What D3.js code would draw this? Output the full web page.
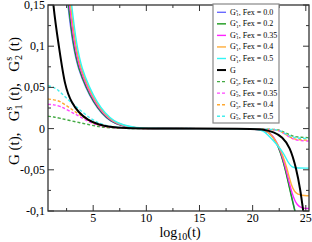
<!DOCTYPE html>
<html>
<head>
<meta charset="utf-8">
<script src="https://cdn.jsdelivr.net/npm/d3@7"></script>
<style>
  body { margin: 0; background: #fff; }
  svg { display: block; }
  text { font-family: "Liberation Serif", "DejaVu Serif", serif; fill: #000; }
</style>
</head>
<body>
<div id="chart"></div>
<script>
// G^s_1 solid curves (x = log10 t, y)
const g1Fex00 = [[0.75, 0.42], [2.0, 0.23], [2.6, 0.15], [3.1, 0.1], [3.6, 0.072], [4.3, 0.05], [5.0, 0.032], [5.8, 0.018], [6.6, 0.009], [7.5, 0.004], [8.7, 0.001], [10, 0], [20, 0], [21.0, -0.001], [21.8, -0.006], [22.6, -0.026], [23.2, -0.055], [23.7, -0.085], [24.0, -0.1], [24.4, -0.125]];
const g1Fex02 = [[0.75, 0.43], [2.0, 0.24], [2.65, 0.15], [3.15, 0.1], [3.65, 0.072], [4.35, 0.05], [5.05, 0.032], [5.85, 0.018], [6.65, 0.009], [7.55, 0.004], [8.75, 0.001], [10, 0], [20, 0], [21.0, -0.001], [21.8, -0.006], [22.6, -0.026], [23.2, -0.056], [23.7, -0.086], [24.0, -0.101], [24.4, -0.126]];
const g1Fex035 = [[0.75, 0.44], [2.0, 0.25], [2.75, 0.15], [3.25, 0.1], [3.75, 0.072], [4.45, 0.05], [5.15, 0.032], [5.95, 0.018], [6.75, 0.009], [7.65, 0.004], [8.85, 0.001], [10, 0], [20, 0], [21.0, -0.001], [21.8, -0.006], [22.6, -0.024], [23.2, -0.052], [23.7, -0.08], [24.2, -0.094], [24.7, -0.097], [25.3, -0.097]];
const g1Fex04 = [[0.75, 0.45], [2.0, 0.26], [2.85, 0.15], [3.35, 0.1], [3.85, 0.072], [4.55, 0.05], [5.25, 0.032], [6.05, 0.018], [6.85, 0.009], [7.75, 0.004], [8.95, 0.001], [10, 0], [20, 0], [21.0, -0.001], [21.63, -0.005], [22.57, -0.022], [23.2, -0.046], [23.68, -0.072], [24.15, -0.081], [25.3, -0.0815]];
const g1Fex05 = [[0.75, 0.46], [2.0, 0.27], [2.95, 0.15], [3.45, 0.1], [3.95, 0.072], [4.65, 0.05], [5.35, 0.032], [6.15, 0.018], [6.95, 0.009], [7.85, 0.004], [9.05, 0.001], [10, 0], [20, 0], [21.0, -0.001], [21.9, -0.014], [22.86, -0.028], [23.36, -0.042], [23.7, -0.047], [24.2, -0.048], [25.3, -0.048]];
// G total
const gTotal = [[0.75, 0.24], [1.18, 0.15], [1.78, 0.1], [2.34, 0.05], [3.0, 0.031], [3.6, 0.02], [4.5, 0.01], [5.5, 0.005], [6.5, 0.002], [8, 0.0005], [10, 0], [20, 0], [21.0, -0.001], [22.0, -0.004], [22.8, -0.01], [23.5, -0.022], [24.1, -0.048], [24.5, -0.075], [24.75, -0.1], [25.0, -0.12]];
// G^s_2 dashed curves
const g2Fex02 = [[0.75, 0.015], [1.3, 0.0142], [1.87, 0.0125], [2.8, 0.0098], [3.76, 0.0072], [4.7, 0.0044], [5.6, 0.0022], [6.5, 0.0009], [8, 0.0002], [10, 0], [22, 0], [22.6, -0.002], [23.2, -0.006], [23.8, -0.0095], [24.5, -0.0106], [25.3, -0.011]];
const g2Fex035 = [[0.75, 0.0295], [1.3, 0.029], [1.87, 0.0274], [2.8, 0.021], [3.76, 0.0145], [4.7, 0.0072], [5.6, 0.0035], [6.5, 0.0014], [8, 0.0004], [10, 0], [22, 0], [22.6, -0.003], [23.2, -0.008], [23.8, -0.0132], [24.5, -0.0148], [25.3, -0.015]];
const g2Fex04 = [[0.75, 0.036], [1.3, 0.035], [1.87, 0.0335], [2.8, 0.025], [3.76, 0.0165], [4.7, 0.0084], [5.6, 0.004], [6.5, 0.0016], [8, 0.0005], [10, 0], [22, 0], [22.6, -0.003], [23.2, -0.0078], [23.8, -0.0125], [24.5, -0.0138], [25.3, -0.014]];
const g2Fex05 = [[0.75, 0.052], [1.3, 0.0505], [1.87, 0.045], [2.8, 0.033], [3.76, 0.0226], [4.7, 0.0125], [5.6, 0.006], [6.5, 0.0025], [8, 0.0007], [10, 0], [22, 0], [22.6, -0.0025], [23.2, -0.007], [23.8, -0.0108], [24.5, -0.0118], [25.3, -0.012]];

const seriesNames = ['Fex = 0.0', 'Fex = 0.2', 'Fex = 0.35', 'Fex = 0.4', 'Fex = 0.5', '', 'Fex = 0.2', 'Fex = 0.35', 'Fex = 0.4', 'Fex = 0.5'];
const seriesData = [g1Fex00, g1Fex02, g1Fex035, g1Fex04, g1Fex05, gTotal, g2Fex02, g2Fex035, g2Fex04, g2Fex05];
const seriesKind = ['G1', 'G1', 'G1', 'G1', 'G1', 'G', 'G2', 'G2', 'G2', 'G2'];
const seriesColor = ['#6a6aff', '#1a9a1a', '#ff22ff', '#ffad3a', '#33f5f5', '#000000', '#44aa44', '#ff44ff', '#ffa830', '#44eeee'];

const xTicks = [5, 10, 15, 20, 25];
const yTicks = [-0.1, -0.05, 0, 0.05, 0.1, 0.15];
const yTickLabels = ['-0,1', '-0,05', '0', '0,05', '0,1', '0,15'];

const width = 312;
const height = 242;
const margin = { top: 5, right: 3, bottom: 31, left: 48 };

const svg = d3.select('#chart')
  .append('svg')
  .attr('width', width)
  .attr('height', height);

const x = d3.scaleLinear()
  .domain([0.75, 25.3])
  .range([margin.left, width - margin.right]);

const y = d3.scaleLinear()
  .domain([-0.1, 0.15])
  .range([height - margin.bottom, margin.top]);

svg.append('clipPath')
  .attr('id', 'plotclip')
  .append('rect')
  .attr('x', margin.left)
  .attr('y', margin.top)
  .attr('width', width - margin.left - margin.right)
  .attr('height', height - margin.top - margin.bottom);

const line = d3.line()
  .x((d) => x(d[0]))
  .y((d) => y(d[1]))
  .curve(d3.curveBasis);

const plot = svg.append('g').attr('clip-path', 'url(#plotclip)');

// draw dashed first, then solid, black last
const order = [6, 7, 8, 9, 0, 1, 2, 3, 4, 5];
order.forEach((i) => {
  plot.append('path')
    .datum(seriesData[i])
    .attr('d', line)
    .attr('fill', 'none')
    .attr('stroke', seriesColor[i])
    .attr('stroke-width', seriesKind[i] === 'G' ? 2 : 1.4)
    .attr('stroke-dasharray', seriesKind[i] === 'G2' ? '3,2' : null);
});

// axes: ticks inside, on all four sides
const xMinor = d3.range(2.5, 25.01, 2.5);
const yMinor = d3.range(-0.1, 0.1501, 0.025);
const axisG = svg.append('g').attr('stroke', '#333').attr('stroke-width', 1);
const x0 = margin.left;
const x1 = width - margin.right;
const y0 = height - margin.bottom;
const y1 = margin.top;

xMinor.forEach((v) => {
  const major = xTicks.some((t) => Math.abs(t - v) < 1e-6);
  const len = major ? 6 : 3;
  axisG.append('line').attr('x1', x(v)).attr('x2', x(v)).attr('y1', y0).attr('y2', y0 - len);
  axisG.append('line').attr('x1', x(v)).attr('x2', x(v)).attr('y1', y1).attr('y2', y1 + len);
});
yMinor.forEach((v) => {
  const major = yTicks.some((t) => Math.abs(t - v) < 1e-6);
  const len = major ? 6 : 3;
  axisG.append('line').attr('y1', y(v)).attr('y2', y(v)).attr('x1', x0).attr('x2', x0 + len);
  axisG.append('line').attr('y1', y(v)).attr('y2', y(v)).attr('x1', x1).attr('x2', x1 - len);
});

svg.append('rect')
  .attr('x', x0)
  .attr('y', y1)
  .attr('width', x1 - x0)
  .attr('height', y0 - y1)
  .attr('fill', 'none')
  .attr('stroke', '#333')
  .attr('stroke-width', 1.3);

svg.selectAll('.xtick')
  .data(xTicks)
  .enter()
  .append('text')
  .attr('class', 'xtick')
  .attr('x', (d) => x(d))
  .attr('y', y0 + 11)
  .attr('text-anchor', 'middle')
  .style('font-size', '12px')
  .text((d) => d);

svg.selectAll('.ytick')
  .data(yTicks)
  .enter()
  .append('text')
  .attr('class', 'ytick')
  .attr('x', x0 - 3)
  .attr('y', (d) => y(d) + 4)
  .attr('text-anchor', 'end')
  .style('font-size', '12px')
  .text((d, i) => yTickLabels[i]);

// x label
const xLabel = svg.append('text')
  .attr('x', 180)
  .attr('y', 237)
  .attr('text-anchor', 'middle')
  .style('font-size', '14px');
xLabel.append('tspan').text('log');
xLabel.append('tspan').attr('dy', 3).style('font-size', '10px').text('10');
xLabel.append('tspan').attr('dy', -3).text('(t)');

// y label
const yLabel = svg.append('text')
  .attr('transform', 'translate(19,101) rotate(-90)')
  .attr('text-anchor', 'middle')
  .style('white-space', 'pre')
  .style('font-size', '15px');
yLabel.append('tspan').text('G (t),   G');
yLabel.append('tspan').attr('dy', -7).style('font-size', '10px').text('s');
yLabel.append('tspan').attr('dy', 10).attr('dx', -3).style('font-size', '10px').text('1');
yLabel.append('tspan').attr('dy', -3).text(' (t),   G');
yLabel.append('tspan').attr('dy', -7).style('font-size', '10px').text('s');
yLabel.append('tspan').attr('dy', 10).attr('dx', -3).style('font-size', '10px').text('2');
yLabel.append('tspan').attr('dy', -3).text(' (t)');

// legend
const legend = svg.append('g').attr('transform', 'translate(213,4)');
legend.append('rect')
  .attr('width', 66)
  .attr('height', 119)
  .attr('fill', '#fff')
  .attr('stroke', '#888')
  .attr('stroke-width', 1.2);

seriesData.forEach((s, i) => {
  const ry = 8.3 + i * 11.55;
  legend.append('line')
    .attr('x1', 4)
    .attr('x2', 13)
    .attr('y1', ry)
    .attr('y2', ry)
    .attr('stroke', seriesColor[i])
    .attr('stroke-width', seriesKind[i] === 'G' ? 2 : 1.4)
    .attr('stroke-dasharray', seriesKind[i] === 'G2' ? '3,2' : null);
  const t = legend.append('text')
    .attr('x', 17)
    .attr('y', ry + 2.5)
    .style('font-size', '8px');
  if (seriesKind[i] === 'G') {
    t.text('G');
  } else {
    t.append('tspan').text('G');
    t.append('tspan').attr('dy', -3).style('font-size', '5px').text('s');
    t.append('tspan').attr('dy', 4.5).attr('dx', -1.5).style('font-size', '5px').text(seriesKind[i] === 'G1' ? '1' : '2');
    t.append('tspan').attr('dy', -1.5).text(`, ${seriesNames[i]}`);
  }
});
</script>
</body>
</html>
